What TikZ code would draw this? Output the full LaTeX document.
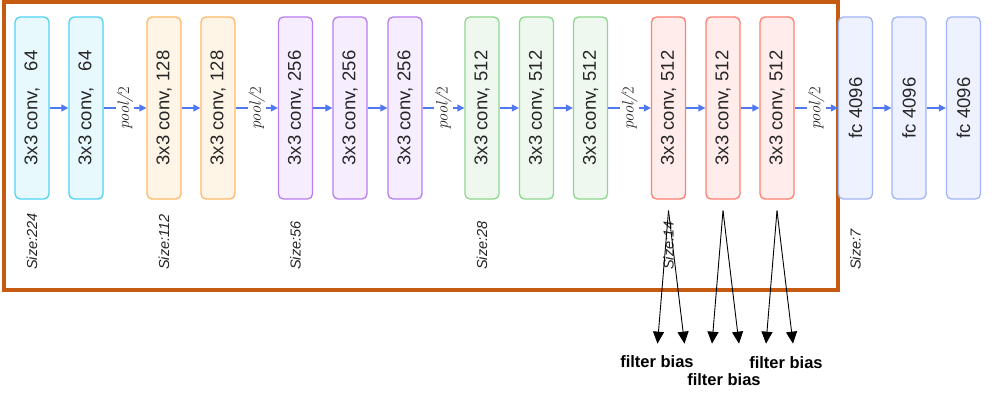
\documentclass[tikz,border=0pt]{standalone}
\usepackage{fontspec}
\setmainfont{Liberation Sans}
\newfontfamily\poolfont{Latin Modern Roman}
\usetikzlibrary{arrows.meta}
\definecolor{frameorange}{HTML}{C55A11}
\definecolor{cyanD}{HTML}{4FD3F3}\definecolor{cyanF}{HTML}{E8F9FD}
\definecolor{orD}{HTML}{FFB866}\definecolor{orF}{HTML}{FFF5E6}
\definecolor{puD}{HTML}{B87CF5}\definecolor{puF}{HTML}{F6EEFF}
\definecolor{grD}{HTML}{8FD68F}\definecolor{grF}{HTML}{EEF8EE}
\definecolor{reD}{HTML}{FF7F70}\definecolor{reF}{HTML}{FFECEB}
\definecolor{blD}{HTML}{A0B4F8}\definecolor{blF}{HTML}{EEF1FE}
\definecolor{arrowblue}{HTML}{5079F0}
\definecolor{txtgray}{HTML}{262626}
\newcommand\convtxt[1]{\rotatebox{90}{3x3 conv,\hspace{6pt}\makebox[31pt][r]{#1}}}
\newcommand\fctxt{\rotatebox{90}{fc 4096}}
\begin{document}
\begin{tikzpicture}[x=1pt,y=-1pt,
  layerbox/.style 2 args={draw=#1,fill=#2,rounded corners=5pt,line width=1.3pt,
    minimum width=34pt,minimum height=182pt,inner sep=0pt,text=txtgray,
    font=\fontsize{18.5}{18.5}\selectfont},
  flow/.style={draw=arrowblue,line width=1.4pt,-{Triangle[length=7pt,width=7pt]}},
  poollabel/.style={fill=white,inner sep=1pt,rotate=90,text=txtgray,
    font=\poolfont\fontsize{16.5}{16.5}\selectfont},
  sizelabel/.style={rotate=90,anchor=west,inner sep=0pt,text=txtgray,
    font=\fontsize{14.5}{14.5}\selectfont\itshape},
  param/.style={draw=black,line width=0.9pt,-{Triangle[length=12pt,width=11pt]}},
  paramlabel/.style={font=\fontsize{16.5}{16.5}\selectfont\bfseries,inner sep=0pt}]
\useasboundingbox (0,0) rectangle (994,401);
\fill[white] (0,0) rectangle (994,401);
\draw[frameorange,line width=4pt] (4,2) rectangle (838,290);
% boxes
\node[layerbox={cyanD}{cyanF}] (b1) at (32,108) {\convtxt{64}};
\node[layerbox={cyanD}{cyanF}] (b2) at (86,108) {\convtxt{64}};
\node[layerbox={orD}{orF}] (b3) at (164,108) {\convtxt{128}};
\node[layerbox={orD}{orF}] (b4) at (218,108) {\convtxt{128}};
\node[layerbox={puD}{puF}] (b5) at (295.5,108) {\convtxt{256}};
\node[layerbox={puD}{puF}] (b6) at (350,108) {\convtxt{256}};
\node[layerbox={puD}{puF}] (b7) at (405,108) {\convtxt{256}};
\node[layerbox={grD}{grF}] (b8) at (482,108) {\convtxt{512}};
\node[layerbox={grD}{grF}] (b9) at (536.5,108) {\convtxt{512}};
\node[layerbox={grD}{grF}] (b10) at (590.5,108) {\convtxt{512}};
\node[layerbox={reD}{reF}] (b11) at (668.5,108) {\convtxt{512}};
\node[layerbox={reD}{reF}] (b12) at (723,108) {\convtxt{512}};
\node[layerbox={reD}{reF}] (b13) at (777,108) {\convtxt{512}};
\node[layerbox={blD}{blF}] (f1) at (855.5,108) {\fctxt};
\node[layerbox={blD}{blF}] (f2) at (909,108) {\fctxt};
\node[layerbox={blD}{blF}] (f3) at (963.5,108) {\fctxt};
% plain arrows
\foreach \a/\b in {b1/b2,b3/b4,b5/b6,b6/b7,b8/b9,b9/b10,b11/b12,b12/b13,f1/f2,f2/f3}
  \draw[flow] (\a) -- (\b);
% pool arrows
\foreach \a/\b in {b2/b3,b4/b5,b7/b8,b10/b11,b13/f1}
  \draw[flow] (\a) -- node[poollabel,pos=0.5] {\itshape pool/\upshape 2} (\b);
% size labels
\coordinate (sz) at (0,270);
\node[sizelabel] (s1) at (b1 |- sz) {Size:224};
\node[sizelabel] (s2) at (b3 |- sz) {Size:112};
\node[sizelabel] (s3) at (b5 |- sz) {Size:56};
\node[sizelabel] (s4) at (b8 |- sz) {Size:28};
\node[sizelabel] (s5) at (b11 |- sz) {Size:14};
\node[sizelabel] (s6) at (f1 |- sz) {Size:7};
% parameter arrows
\foreach \r in {b11,b12,b13}{
  \coordinate (\r-top) at ([yshift=-11pt]\r.south);
  \coordinate (\r-fl) at ([xshift=-11pt,yshift=-144pt]\r.south);
  \coordinate (\r-bi) at ([xshift=16pt,yshift=-144pt]\r.south);
  \draw[param] (\r-top) -- (\r-fl);
  \draw[param] (\r-top) -- (\r-bi);
}
\node[paramlabel] (p1) at (657,362) {filter bias};
\node[paramlabel] (p2) at (724,380) {filter bias};
\node[paramlabel] (p3) at (786,363) {filter bias};
\end{tikzpicture}
\end{document}
